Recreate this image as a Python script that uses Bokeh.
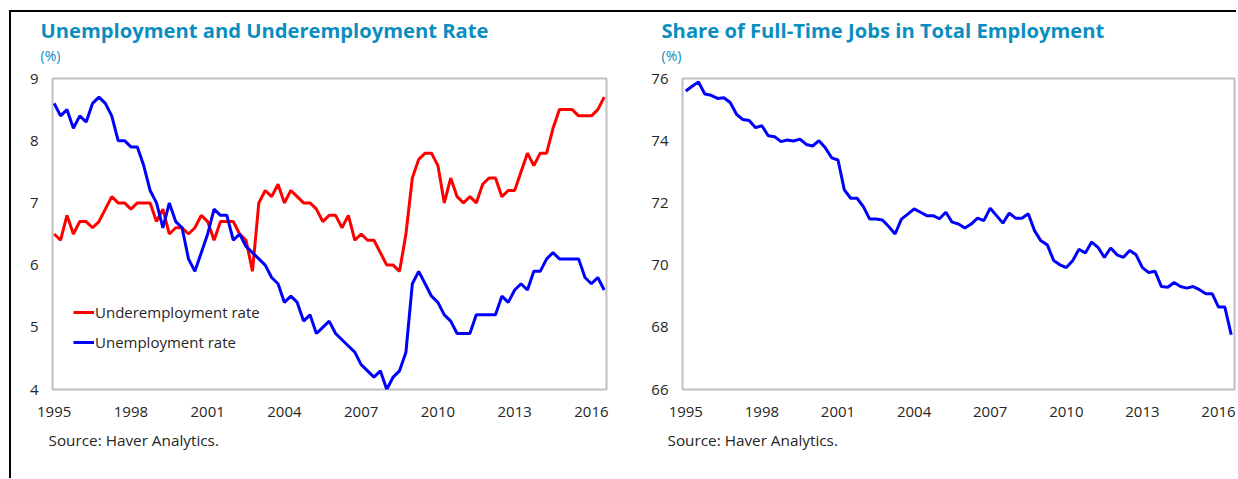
from bokeh.plotting import figure
from bokeh.models import Range1d, FixedTicker, Legend, LegendItem, Title
from bokeh.layouts import row
from bokeh.embed import file_html
from bokeh.resources import INLINE

# ---------------- data (quarterly, 1995Q1 - 2016Q3) ----------------
start_year = 1995
n_quarters = 87
quarters = [start_year + i / 4 for i in range(n_quarters)]

underemployment = [6.5, 6.4, 6.8, 6.5, 6.7, 6.7, 6.6, 6.7, 6.9, 7.1,
                   7.0, 7.0, 6.9, 7.0, 7.0, 7.0, 6.7, 6.9, 6.5, 6.6,
                   6.6, 6.5, 6.6, 6.8, 6.7, 6.4, 6.7, 6.7, 6.7, 6.5,
                   6.4, 5.9, 7.0, 7.2, 7.1, 7.3, 7.0, 7.2, 7.1, 7.0,
                   7.0, 6.9, 6.7, 6.8, 6.8, 6.6, 6.8, 6.4, 6.5, 6.4,
                   6.4, 6.2, 6.0, 6.0, 5.9, 6.5, 7.4, 7.7, 7.8, 7.8,
                   7.6, 7.0, 7.4, 7.1, 7.0, 7.1, 7.0, 7.3, 7.4, 7.4,
                   7.1, 7.2, 7.2, 7.5, 7.8, 7.6, 7.8, 7.8, 8.2, 8.5,
                   8.5, 8.5, 8.4, 8.4, 8.4, 8.5, 8.7]

unemployment = [8.6, 8.4, 8.5, 8.2, 8.4, 8.3, 8.6, 8.7, 8.6, 8.4,
                8.0, 8.0, 7.9, 7.9, 7.6, 7.2, 7.0, 6.6, 7.0, 6.7,
                6.6, 6.1, 5.9, 6.2, 6.5, 6.9, 6.8, 6.8, 6.4, 6.5,
                6.3, 6.2, 6.1, 6.0, 5.8, 5.7, 5.4, 5.5, 5.4, 5.1,
                5.2, 4.9, 5.0, 5.1, 4.9, 4.8, 4.7, 4.6, 4.4, 4.3,
                4.2, 4.3, 4.0, 4.2, 4.3, 4.6, 5.7, 5.9, 5.7, 5.5,
                5.4, 5.2, 5.1, 4.9, 4.9, 4.9, 5.2, 5.2, 5.2, 5.2,
                5.5, 5.4, 5.6, 5.7, 5.6, 5.9, 5.9, 6.1, 6.2, 6.1,
                6.1, 6.1, 6.1, 5.8, 5.7, 5.8, 5.6]

fulltime_share = [75.60, 75.75, 75.89, 75.50, 75.46, 75.36, 75.38, 75.23, 74.85, 74.68,
                  74.65, 74.42, 74.48, 74.16, 74.13, 73.97, 74.02, 73.99, 74.05, 73.88,
                  73.83, 74.00, 73.77, 73.45, 73.38, 72.42, 72.15, 72.15, 71.88, 71.48,
                  71.48, 71.45, 71.24, 71.00, 71.48, 71.64, 71.81, 71.70, 71.59, 71.59,
                  71.49, 71.70, 71.38, 71.32, 71.19, 71.32, 71.51, 71.43, 71.83, 71.59,
                  71.35, 71.67, 71.51, 71.51, 71.65, 71.10, 70.78, 70.65, 70.15, 70.01,
                  69.92, 70.14, 70.51, 70.39, 70.74, 70.57, 70.25, 70.55, 70.33, 70.25,
                  70.47, 70.33, 69.92, 69.76, 69.80, 69.31, 69.29, 69.44, 69.31, 69.26,
                  69.31, 69.21, 69.08, 69.08, 68.65, 68.65, 67.76]

x_ticks = [1995, 1998, 2001, 2004, 2007, 2010, 2013, 2016]
left_y_ticks = [4, 5, 6, 7, 8, 9]
right_y_ticks = [66, 68, 70, 72, 74, 76]

title_left = "Unemployment and Underemployment Rate"
title_right = "Share of Full-Time Jobs in Total Employment"
unit_text = "(%)"
source_text = "Source: Haver Analytics."
legend_labels = ["Underemployment rate", "Unemployment rate"]

# ---------------- styling ----------------
FONT = "Open Sans"
TEAL = "#0A8DBF"
TEXT = "#262626"
RED = "#FF0000"
BLUE = "#0000FF"
FIG_H = 466
B_TOP = 66


def make_fig(width, b_left, b_right, frame_h, xr, yr, yticks):
    p = figure(width=width, height=FIG_H, x_range=xr, y_range=yr,
               output_backend="svg", toolbar_location=None,
               min_border_left=b_left, min_border_right=b_right,
               min_border_top=B_TOP, min_border_bottom=FIG_H - B_TOP - frame_h)
    p.grid.visible = False
    p.outline_line_color = "#BFBFBF"
    p.outline_line_width = 2
    p.background_fill_color = "white"
    p.border_fill_color = "white"
    p.xaxis.ticker = FixedTicker(ticks=x_ticks)
    p.yaxis.ticker = FixedTicker(ticks=yticks)
    for ax in (p.xaxis[0], p.yaxis[0]):
        ax.axis_line_color = None
        ax.major_tick_line_color = None
        ax.minor_tick_line_color = None
        ax.major_tick_in = 0
        ax.major_tick_out = 0
        ax.major_label_text_font = FONT
        ax.major_label_text_font_size = "15px"
        ax.major_label_text_color = TEXT
    p.xaxis.major_label_standoff = 17
    p.yaxis.major_label_standoff = 14
    return p


def add_texts(p, title, dx_title, dx_src):
    # closest to the frame first
    p.add_layout(Title(text=unit_text, align="left", offset=dx_title, standoff=28,
                       text_font=FONT, text_font_size="14px",
                       text_font_style="normal", text_color=TEAL), "above")
    p.add_layout(Title(text=title, align="left", offset=dx_title, standoff=-29,
                       text_font=FONT, text_font_size="20.2px",
                       text_font_style="bold", text_color=TEAL), "above")
    p.add_layout(Title(text=source_text, align="left", offset=dx_src, standoff=16,
                       text_font=FONT, text_font_size="15.3px",
                       text_font_style="normal", text_color=TEXT), "below")


# ---------------- left chart ----------------
p1 = make_fig(609, 41, 14, 314,
              Range1d(1994.934, 2016.59), Range1d(4, 9), left_y_ticks)
r_under = p1.line(quarters, underemployment, line_color=RED, line_width=3)
r_unemp = p1.line(quarters, unemployment, line_color=BLUE, line_width=3)
legend = Legend(items=[LegendItem(label=legend_labels[0], renderers=[r_under]),
                       LegendItem(label=legend_labels[1], renderers=[r_unemp])],
                location=(21, 37), border_line_color=None,
                background_fill_alpha=0, padding=0, margin=0, spacing=10,
                glyph_width=21, glyph_height=20, label_height=20,
                label_standoff=1, label_text_font=FONT,
                label_text_font_size="15px", label_text_color=TEXT)
p1.add_layout(legend)
add_texts(p1, title_left, -12, -4)

# ---------------- right chart ----------------
p2 = make_fig(616, 62, 2, 311,
              Range1d(1994.87, 2016.63), Range1d(66, 76), right_y_ticks)
p2.line(quarters, fulltime_share, line_color=BLUE, line_width=3)
add_texts(p2, title_right, -21, -15)

layout = row(p1, p2, margin=(10, 0, 0, 9),
             styles={"border-top": "2px solid black",
                     "border-left": "2px solid black"})

html = file_html(layout, INLINE)
with open("out.html", "w") as f:
    f.write(html)
